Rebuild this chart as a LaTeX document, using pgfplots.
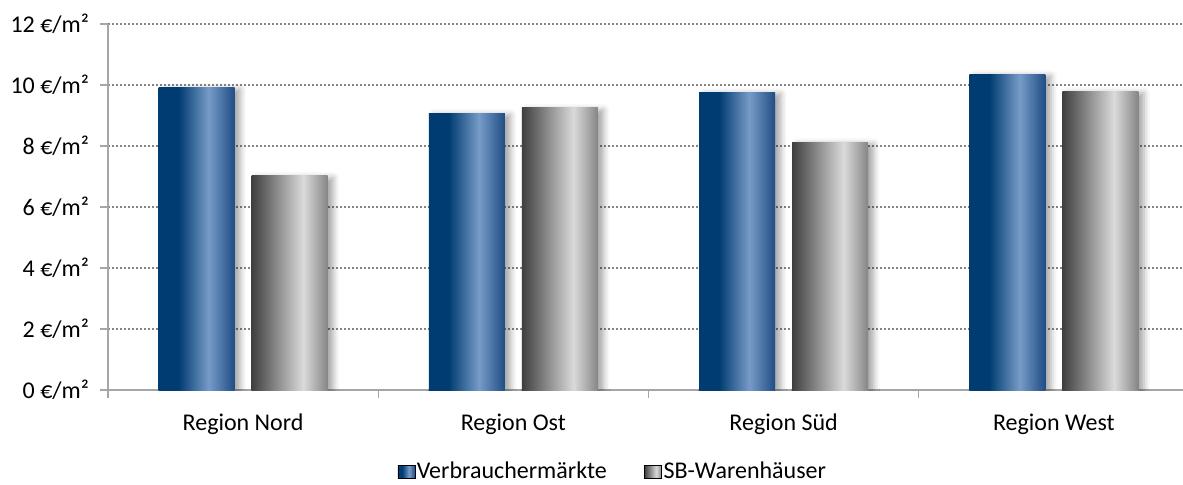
\documentclass[border=0pt]{standalone}
\usepackage{fontspec}
\setmainfont{Carlito}
\usepackage{pgfplots}
\pgfplotsset{compat=1.18}
\usetikzlibrary{shadows.blur}

\definecolor{navyA}{HTML}{003C71}
\definecolor{navyB}{HTML}{779BC7}
\definecolor{navyC}{HTML}{1F4D85}
\definecolor{greyA}{HTML}{3F3F3F}
\definecolor{greyB}{HTML}{DADADA}
\definecolor{greyC}{HTML}{858585}
\definecolor{gridgrey}{HTML}{858585}
\definecolor{axisgrey}{HTML}{A6A6A6}

% bar gradients: the central 25bp..75bp span is stretched over each bar
\pgfdeclarehorizontalshading{bluebar}{100bp}{color(0bp)=(navyA); color(25bp)=(navyA); color(38bp)=(navyA); color(58bp)=(navyB); color(75bp)=(navyC); color(100bp)=(navyC)}
\pgfdeclarehorizontalshading{greybar}{100bp}{color(0bp)=(greyA); color(25bp)=(greyA); color(59bp)=(greyB); color(75bp)=(greyC); color(100bp)=(greyC)}

\pgfplotstableread{
x  vm
1  9.93
2  9.08
3  9.77
4  10.36
}\vmtable
\pgfplotstableread{
x  sb
1  7.02
2  9.25
3  8.13
4  9.80
}\sbtable

\newcommand{\lbl}{\fontsize{12}{14}\selectfont}

% every bar is its own plot so that the gradient spans that bar alone
\pgfplotsset{
  barshadow/.style={blur shadow={shadow xshift=2.8pt, shadow yshift=-1pt,
      shadow blur radius=3pt, shadow opacity=35}},
  vmbar/.style={forget plot, draw=none, shade, shading=bluebar,
      bar shift=-23.25pt, barshadow},
  sbbar/.style={forget plot, draw=none, shade, shading=greybar,
      bar shift=23.25pt, barshadow},
  row0/.style={skip coords between index={1}{4}},
  row1/.style={skip coords between index={0}{1}, skip coords between index={2}{4}},
  row2/.style={skip coords between index={0}{2}, skip coords between index={3}{4}},
  row3/.style={skip coords between index={0}{3}},
}

\begin{document}
\begin{tikzpicture}
\useasboundingbox (-54pt,-47pt) rectangle (537.5pt,195pt);
\begin{axis}[
  at={(0,0)}, anchor=south west,
  scale only axis, width=540.5pt, height=183pt,
  xmin=0.5, xmax=4.5, ymin=0, ymax=12,
  axis lines=left,
  axis line style={-, draw=axisgrey, line width=0.6pt},
  xtick={1,2,3,4},
  xticklabels={Region Nord, Region Ost, Region Süd, Region West},
  minor xtick={0.5,1.5,2.5,3.5,4.5},
  xtick style={draw=none},
  minor x tick style={draw=axisgrey, line width=0.6pt},
  ytick={0,2,...,12},
  yticklabels={0 €/m², 2 €/m², 4 €/m², 6 €/m², 8 €/m², 10 €/m², 12 €/m²},
  y tick style={draw=axisgrey, line width=0.6pt},
  tick align=outside,
  major tick length=4pt, minor tick length=4pt,
  ymajorgrids,
  major grid style={draw=gridgrey, line width=1pt, dash pattern=on 1pt off 1pt},
  tick label style={font=\lbl, text=black},
  yticklabel style={xshift=-2pt},
  xticklabel style={yshift=-4.5pt},
  ybar, bar width=38pt,
  legend style={at={(0.4667,-0.222)}, anchor=center, draw=none, fill=none,
    legend columns=2, font=\lbl,
    nodes={inner xsep=0.75pt},
    /tikz/every even column/.append style={column sep=18pt},
    legend cell align=left},
]
\addlegendimage{legend image code/.code={\shade[shading=bluebar] (0pt,-3.4pt) rectangle (8.5pt,3pt);}}
\addlegendentry{Verbrauchermärkte}
\addlegendimage{legend image code/.code={\shade[shading=greybar] (0pt,-3.4pt) rectangle (8.5pt,3pt);}}
\addlegendentry{SB-Warenhäuser}

\addplot[vmbar, row0] table[x=x, y=vm] {\vmtable};
\addplot[vmbar, row1] table[x=x, y=vm] {\vmtable};
\addplot[vmbar, row2] table[x=x, y=vm] {\vmtable};
\addplot[vmbar, row3] table[x=x, y=vm] {\vmtable};

\addplot[sbbar, row0] table[x=x, y=sb] {\sbtable};
\addplot[sbbar, row1] table[x=x, y=sb] {\sbtable};
\addplot[sbbar, row2] table[x=x, y=sb] {\sbtable};
\addplot[sbbar, row3] table[x=x, y=sb] {\sbtable};
\end{axis}
\end{tikzpicture}
\end{document}
